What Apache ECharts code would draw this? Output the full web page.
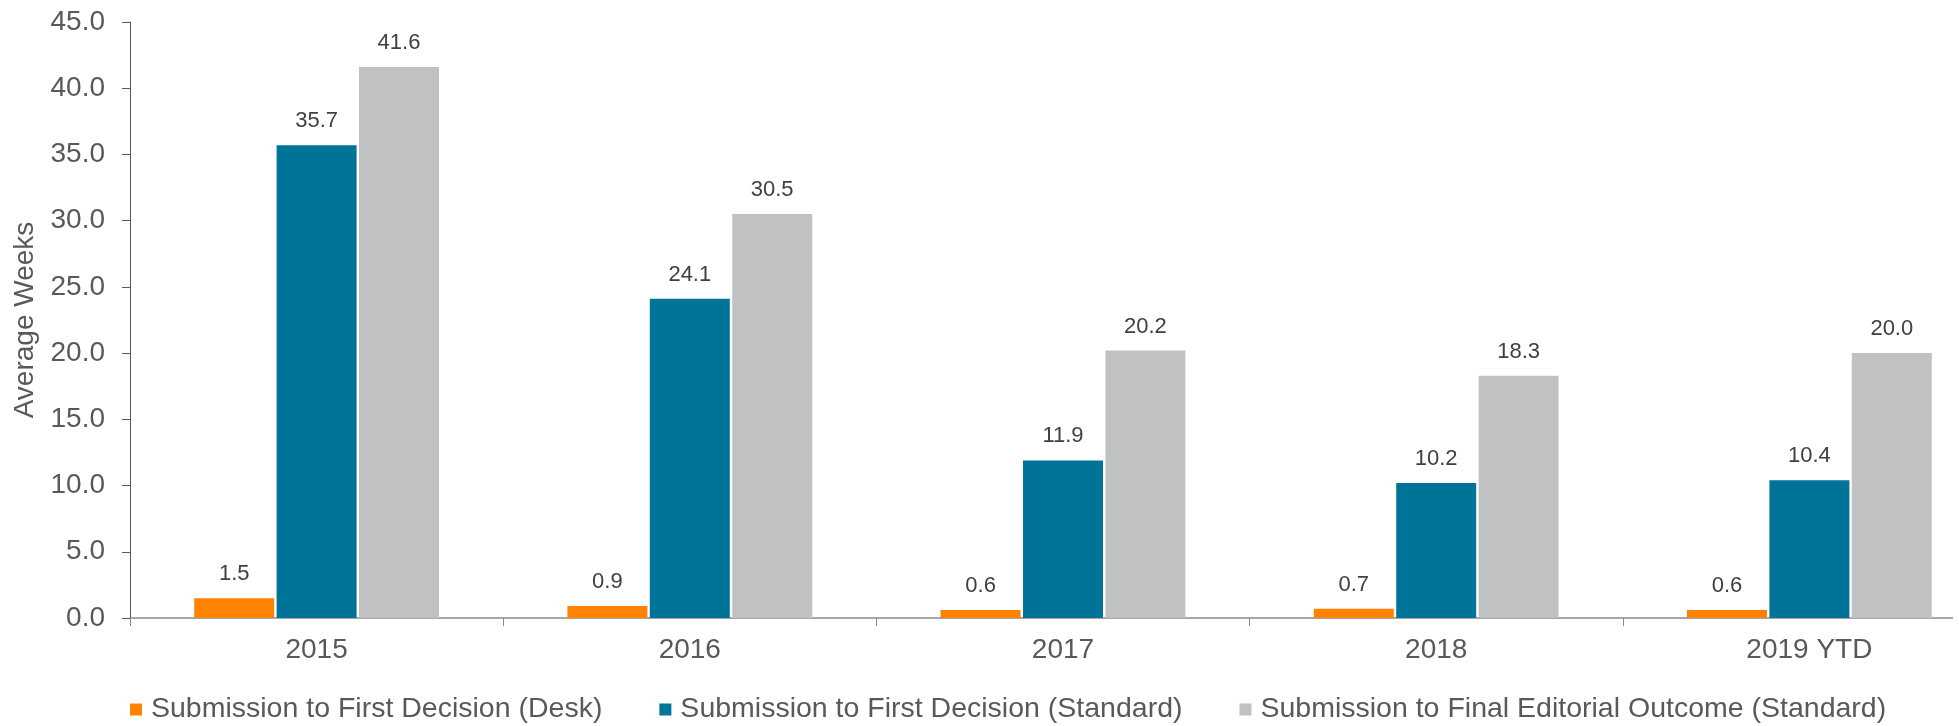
<!DOCTYPE html>
<html>
<head>
<meta charset="utf-8">
<title>Average Weeks</title>
<script src="https://cdn.jsdelivr.net/npm/echarts@6/dist/echarts.min.js"></script>
<style>
  html, body { margin: 0; padding: 0; background: #fff; }
  #main { width: 1959px; height: 726px; }
</style>
</head>
<body>
<div id="main"></div>
<script>
// 数据
var years = ["2015", "2016", "2017", "2018", "2019 YTD"];
var deskFirst = [1.5, 0.9, 0.6, 0.7, 0.6];
var stdFirst = [35.7, 24.1, 11.9, 10.2, 10.4];
var stdFinal = [41.6, 30.5, 20.2, 18.3, 20.0];
var seriesNames = [
  "Submission to First Decision (Desk)",
  "Submission to First Decision (Standard)",
  "Submission to Final Editorial Outcome (Standard)"
];
var colors = ["#ff8200", "#007398", "#c0c1c3"];

var font = "Liberation Sans, Arial, sans-serif";
var chart = echarts.init(document.getElementById("main"), null, { renderer: "canvas" });

function barSeries(name, data, color) {
  return {
    name: name,
    type: "bar",
    data: data,
    barWidth: 80,
    barGap: "3%",
    itemStyle: { color: color },
    label: {
      show: true,
      position: "top",
      distance: 13,
      color: "#404040",
      fontSize: 22,
      fontFamily: font,
      formatter: function (p) { return p.value.toFixed(1); }
    }
  };
}

var option = {
  animation: false,
  color: colors,
  // 原图右侧被裁掉一截，所以 right 为负
  grid: {
    left: 130, right: -37, top: 22, bottom: 108,
    containLabel: false,
    outerBoundsMode: "none"
  },
  // 遮住裁切线外的坐标轴
  graphic: [{
    type: "rect",
    right: 0,
    top: 600,
    shape: { width: 6, height: 40 },
    style: { fill: "#fff" },
    z: 100
  }],
  legend: {
    top: 695,
    left: 130,
    padding: 0,
    itemGap: 57,
    itemWidth: 12,
    itemHeight: 12,
    icon: "rect",
    textStyle: { color: "#595959", fontSize: 28.5, fontFamily: font, padding: [0, 0, 0, 4] },
    data: seriesNames
  },
  xAxis: {
    type: "category",
    data: years,
    axisLine: { lineStyle: { color: "#8c8c8c", width: 1.5 } },
    axisTick: { show: true, length: 8, lineStyle: { color: "#8c8c8c" } },
    axisLabel: { color: "#595959", fontSize: 28, fontFamily: font, margin: 18 }
  },
  yAxis: {
    type: "value",
    min: 0,
    max: 45,
    interval: 5,
    name: "Average Weeks",
    nameLocation: "middle",
    nameGap: 88,
    nameTextStyle: { color: "#595959", fontSize: 28, fontFamily: font },
    axisLine: { show: true, lineStyle: { color: "#595959" } },
    axisTick: { show: true, length: 8, lineStyle: { color: "#595959" } },
    splitLine: { show: false },
    axisLabel: {
      color: "#595959",
      fontSize: 28,
      fontFamily: font,
      margin: 25,
      formatter: function (v) { return v.toFixed(1); }
    }
  },
  series: [
    barSeries(seriesNames[0], deskFirst, colors[0]),
    barSeries(seriesNames[1], stdFirst, colors[1]),
    barSeries(seriesNames[2], stdFinal, colors[2])
  ]
};

chart.setOption(option);
window.addEventListener("resize", chart.resize);
</script>
</body>
</html>
